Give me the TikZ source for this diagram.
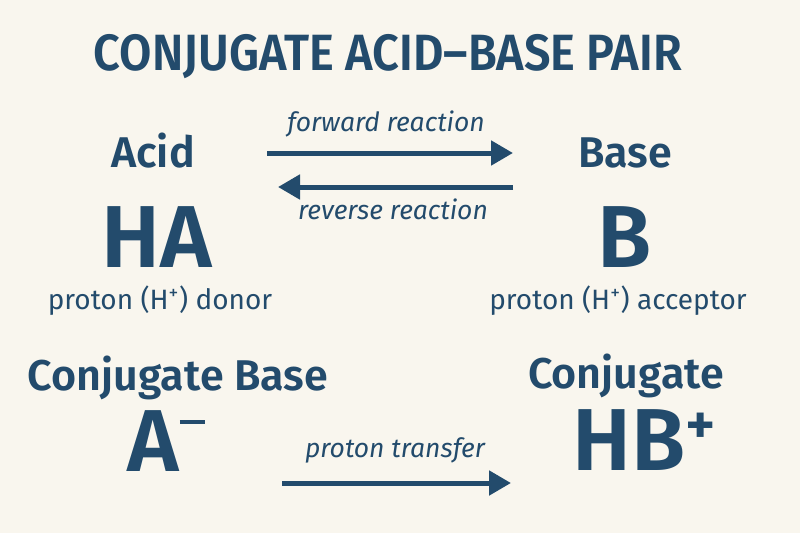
\documentclass[tikz,border=0pt]{standalone}
\usepackage{fontspec}
\setmainfont{Fira Sans}[BoldFont={Fira Sans SemiBold}]
\usepackage{xcolor}
\usetikzlibrary{arrows.meta}
\definecolor{inkblue}{HTML}{234B6C}
\definecolor{paper}{HTML}{F9F6EE}
\newcommand{\upplus}{\raisebox{26pt}{\fontsize{58}{58}\selectfont +}}
\newcommand{\upminus}{\kern1pt\raisebox{47pt}{\rule{25pt}{4.5pt}}}
\tikzset{
    lbl/.style={text=inkblue, anchor=base, inner sep=0pt, text depth=0pt},
    head/.style={lbl, font=\fontsize{43}{43}\selectfont\bfseries},
    formula/.style={lbl, font=\fontsize{88}{88}\selectfont\bfseries},
    role/.style={lbl, font=\fontsize{28}{28}\selectfont},
    rxn/.style={lbl, font=\fontsize{26.5}{26.5}\selectfont\itshape},
    rxnarrow/.style={draw=inkblue, line width=5pt, -{Triangle[length=22pt,width=24pt]}}
}
\begin{document}
\begin{tikzpicture}[x=1pt,y=-1pt]
    \fill[paper] (0,0) rectangle (800,533);
    \useasboundingbox (0,0) rectangle (800,533);
    \node[lbl, font=\fontsize{51}{51}\selectfont\bfseries, xscale=0.92] (title) at (388,70) {CONJUGATE ACID--BASE PAIR};
    % acid side
    \node[head] (acid) at (153,167) {Acid};
    \node[formula] (HA) at (157,267) {HA};
    \node[role] (donor) at (160,309) {proton (H\textsuperscript{+}) donor};
    % base side
    \node[head] (base) at (625,167) {Base};
    \node[formula] (B) at (625,267) {B};
    \node[role] (acceptor) at (618,309) {proton (H\textsuperscript{+}) acceptor};
    % reaction arrows
    \node[rxn] (fwd) at (386,131) {forward reaction};
    \node[rxn] (rev) at (393,219) {reverse reaction};
    \coordinate (fwdL) at (267,153);
    \coordinate (fwdR) at (513,153);
    \coordinate (revL) at (278,187);
    \coordinate (revR) at (513,187);
    \draw[rxnarrow] (fwdL) -- (fwdR);
    \draw[rxnarrow] (revR) -- (revL);
    % conjugates
    \node[head] (cbase) at (178,390) {Conjugate Base};
    \node[formula] (Aminus) at (166,471) {A\upminus};
    \node[head] (cacid) at (626,388) {Conjugate};
    \node[formula] (HBplus) at (644,470) {HB\upplus};
    \node[rxn] (transfer) at (395,457) {proton transfer};
    \coordinate (trL) at (282,483);
    \coordinate (trR) at (511,483);
    \draw[rxnarrow] (trL) -- (trR);
\end{tikzpicture}
\end{document}
